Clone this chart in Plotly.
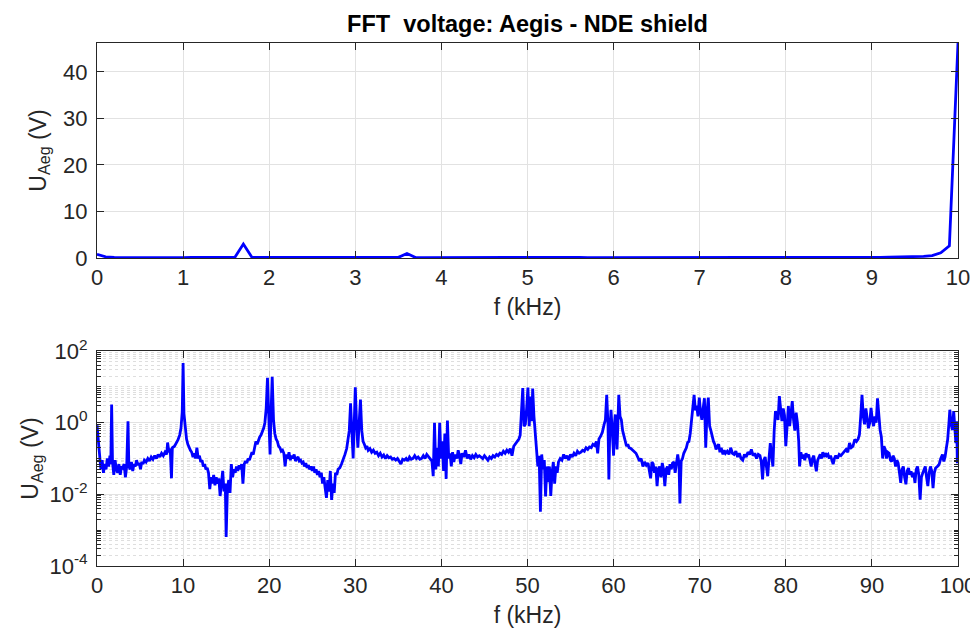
"""
FFT of the Aegis voltage, NDE shield: linear view 0-10 kHz, log view 0-100 kHz.
"""
import plotly.graph_objects as go
from plotly.subplots import make_subplots

# top panel: 0-10 kHz, linear amplitude
f_top = [
    0.0, 0.1, 0.2, 0.3, 0.4, 0.5, 0.6, 0.7, 0.8, 0.9,
    1.0, 1.1, 1.2, 1.3, 1.4, 1.5, 1.6, 1.7, 1.8, 1.9,
    2.0, 2.1, 2.2, 2.3, 2.4, 2.5, 2.6, 2.7, 2.8, 2.9,
    3.0, 3.1, 3.2, 3.3, 3.4, 3.5, 3.6, 3.7, 3.8, 3.9,
    4.0, 4.1, 4.2, 4.3, 4.4, 4.5, 4.6, 4.7, 4.8, 4.9,
    5.0, 5.1, 5.2, 5.3, 5.4, 5.5, 5.6, 5.7, 5.8, 5.9,
    6.0, 6.1, 6.2, 6.3, 6.4, 6.5, 6.6, 6.7, 6.8, 6.9,
    7.0, 7.1, 7.2, 7.3, 7.4, 7.5, 7.6, 7.7, 7.8, 7.9,
    8.0, 8.1, 8.2, 8.3, 8.4, 8.5, 8.6, 8.7, 8.8, 8.9,
    9.0, 9.1, 9.2, 9.3, 9.4, 9.5, 9.6, 9.7, 9.8, 9.9,
    10.0,
]
u_top = [
    0.8, 0.25, 0.12, 0.1, 0.08, 0.09, 0.1, 0.08, 0.1, 0.12,
    0.09, 0.1, 0.13, 0.1, 0.09, 0.11, 0.1, 3.0, 0.12, 0.1,
    0.1, 0.08, 0.1, 0.09, 0.11, 0.1, 0.08, 0.1, 0.09, 0.1,
    0.1, 0.09, 0.1, 0.11, 0.1, 0.12, 0.95, 0.1, 0.09, 0.1,
    0.1, 0.09, 0.11, 0.1, 0.08, 0.1, 0.09, 0.1, 0.11, 0.1,
    0.09, 0.1, 0.1, 0.08, 0.1, 0.11, 0.1, 0.09, 0.1, 0.1,
    0.09, 0.1, 0.11, 0.1, 0.08, 0.1, 0.1, 0.09, 0.1, 0.11,
    0.1, 0.09, 0.1, 0.1, 0.08, 0.1, 0.11, 0.1, 0.09, 0.1,
    0.18, 0.12, 0.1, 0.13, 0.1, 0.08, 0.06, 0.1, 0.12, 0.13,
    0.15, 0.14, 0.16, 0.18, 0.22, 0.25, 0.35, 0.5, 1.1, 2.6,
    46.2,
]

# bottom panel: 0-100 kHz, log amplitude
f_bot = [
    0.0, 0.15, 0.3, 0.45, 0.6, 0.75, 0.9, 1.05, 1.2, 1.35, 1.5, 1.6, 1.7, 1.8,
    1.95, 2.1, 2.25, 2.4, 2.55, 2.7, 2.85, 3.0, 3.15, 3.3, 3.45, 3.6, 3.7, 3.85,
    4.0, 4.15, 4.3, 4.45, 4.6, 4.75, 4.9, 5.05, 5.2, 5.35, 5.5, 5.7, 5.9, 6.1,
    6.3, 6.5, 6.7, 6.9, 7.1, 7.3, 7.5, 7.7, 7.9, 8.1, 8.2, 8.35, 8.5, 8.65,
    8.75, 9.0, 9.2, 9.4, 9.6, 9.75, 9.9, 10.0, 10.1, 10.25, 10.4, 10.55, 10.7,
    10.85, 11.0, 11.15, 11.3, 11.45, 11.6, 11.75, 11.9, 12.05, 12.2, 12.35,
    12.5, 12.65, 12.8, 12.95, 13.1, 13.25, 13.4, 13.55, 13.7, 13.85, 14.0,
    14.15, 14.3, 14.45, 14.6, 14.75, 14.9, 15.0, 15.15, 15.3, 15.45, 15.6,
    15.75, 15.9, 16.05, 16.2, 16.35, 16.5, 16.65, 16.8, 16.95, 17.1, 17.25,
    17.4, 17.55, 17.7, 17.85, 18.0, 18.15, 18.3, 18.45, 18.6, 18.75, 18.9,
    19.05, 19.2, 19.35, 19.5, 19.65, 19.8, 19.95, 20.1, 20.2, 20.35, 20.5,
    20.65, 20.8, 20.95, 21.1, 21.25, 21.4, 21.55, 21.7, 21.85, 22.0, 22.15,
    22.3, 22.45, 22.6, 22.75, 22.9, 23.05, 23.2, 23.35, 23.5, 23.65, 23.8,
    23.95, 24.1, 24.25, 24.4, 24.55, 24.7, 24.85, 25.0, 25.15, 25.3, 25.45,
    25.6, 25.75, 25.9, 26.05, 26.2, 26.35, 26.5, 26.65, 26.8, 26.95, 27.1,
    27.25, 27.4, 27.55, 27.7, 27.85, 28.0, 28.2, 28.4, 28.6, 28.8, 29.0,
    29.15, 29.3, 29.45, 29.6, 29.75, 29.9, 30.0, 30.15, 30.3, 30.45, 30.6,
    30.75, 30.9, 31.05, 31.2, 31.35, 31.5, 31.7, 31.9, 32.1, 32.3, 32.5,
    32.7, 32.9, 33.1, 33.3, 33.5, 33.7, 33.9, 34.1, 34.3, 34.5, 34.7, 34.9,
    35.1, 35.3, 35.5, 35.7, 35.9, 36.1, 36.3, 36.5, 36.7, 36.9, 37.1, 37.3,
    37.5, 37.7, 37.9, 38.1, 38.3, 38.5, 38.7, 38.9, 39.05, 39.2, 39.35, 39.5,
    39.65, 39.8, 39.95, 40.1, 40.25, 40.4, 40.55, 40.7, 40.85, 41.0, 41.15,
    41.3, 41.45, 41.6, 41.8, 41.95, 42.1, 42.25, 42.4, 42.6, 42.8, 43.0,
    43.2, 43.4, 43.6, 43.8, 44.0, 44.2, 44.4, 44.6, 44.8, 45.0, 45.2, 45.4,
    45.6, 45.8, 46.0, 46.2, 46.4, 46.6, 46.8, 47.0, 47.2, 47.4, 47.6, 47.8,
    48.0, 48.2, 48.4, 48.6, 48.8, 49.0, 49.15, 49.3, 49.45, 49.6, 49.75,
    49.9, 50.05, 50.2, 50.35, 50.5, 50.6, 50.75, 50.9, 51.05, 51.2, 51.35,
    51.5, 51.65, 51.8, 51.95, 52.1, 52.25, 52.4, 52.55, 52.7, 52.85, 53.0,
    53.15, 53.3, 53.45, 53.6, 53.8, 54.0, 54.2, 54.4, 54.6, 54.8, 55.0,
    55.2, 55.4, 55.6, 55.8, 56.0, 56.2, 56.4, 56.6, 56.8, 57.0, 57.2, 57.4,
    57.6, 57.8, 58.0, 58.15, 58.3, 58.5, 58.7, 58.9, 59.05, 59.2, 59.35,
    59.45, 59.55, 59.7, 59.85, 60.0, 60.1, 60.2, 60.3, 60.4, 60.5, 60.6,
    60.75, 60.9, 61.05, 61.2, 61.35, 61.5, 61.65, 61.8, 62.0, 62.2, 62.4,
    62.6, 62.8, 63.0, 63.2, 63.4, 63.6, 63.8, 64.0, 64.15, 64.3, 64.45,
    64.6, 64.75, 64.9, 65.05, 65.2, 65.35, 65.5, 65.65, 65.8, 65.95, 66.1,
    66.25, 66.4, 66.55, 66.7, 66.85, 67.0, 67.15, 67.3, 67.45, 67.6, 67.7,
    67.85, 68.0, 68.15, 68.3, 68.45, 68.6, 68.75, 68.9, 69.05, 69.2, 69.35,
    69.5, 69.65, 69.8, 69.95, 70.1, 70.25, 70.4, 70.55, 70.7, 70.85, 71.0,
    71.15, 71.3, 71.45, 71.6, 71.75, 71.9, 72.05, 72.2, 72.35, 72.5, 72.7,
    72.85, 73.0, 73.2, 73.4, 73.6, 73.8, 74.0, 74.2, 74.4, 74.6, 74.8, 75.0,
    75.2, 75.4, 75.6, 75.8, 76.0, 76.2, 76.4, 76.6, 76.8, 77.0, 77.15, 77.3,
    77.45, 77.6, 77.75, 77.9, 78.05, 78.2, 78.35, 78.5, 78.65, 78.8, 78.95,
    79.1, 79.25, 79.4, 79.55, 79.7, 79.85, 80.0, 80.15, 80.3, 80.45, 80.6,
    80.75, 80.9, 81.05, 81.2, 81.35, 81.5, 81.6, 81.75, 81.9, 82.05, 82.2,
    82.35, 82.5, 82.65, 82.8, 82.95, 83.1, 83.25, 83.4, 83.55, 83.7, 83.85,
    84.0, 84.15, 84.3, 84.45, 84.6, 84.75, 84.9, 85.05, 85.2, 85.35, 85.5,
    85.65, 85.8, 86.0, 86.2, 86.4, 86.6, 86.8, 87.0, 87.2, 87.4, 87.6, 87.8,
    88.0, 88.2, 88.4, 88.55, 88.7, 88.85, 89.0, 89.15, 89.3, 89.45, 89.6,
    89.75, 89.9, 90.05, 90.2, 90.35, 90.5, 90.65, 90.8, 90.95, 91.1, 91.25,
    91.4, 91.55, 91.7, 91.85, 92.0, 92.15, 92.3, 92.45, 92.6, 92.75, 92.9,
    93.05, 93.2, 93.35, 93.5, 93.65, 93.8, 93.95, 94.1, 94.25, 94.4, 94.55,
    94.7, 94.85, 95.0, 95.15, 95.3, 95.45, 95.6, 95.75, 95.9, 96.05, 96.2,
    96.35, 96.5, 96.65, 96.8, 96.95, 97.1, 97.25, 97.4, 97.6, 97.8, 98.0,
    98.2, 98.35, 98.5, 98.65, 98.8, 98.95, 99.05, 99.2, 99.35, 99.5, 99.65,
    99.75, 99.85, 99.92, 100.0,
]
u_bot = [
    0.85, 0.3, 0.1, 0.05, 0.09, 0.04, 0.07, 0.05, 0.1, 0.06, 0.12, 0.07, 3.2, 0.08,
    0.035, 0.09, 0.05, 0.04, 0.07, 0.035, 0.06, 0.055, 0.07, 0.03, 0.06, 1.1, 0.06, 0.05,
    0.08, 0.045, 0.07, 0.06, 0.09, 0.065, 0.075, 0.05, 0.08, 0.07, 0.09, 0.08, 0.1, 0.085,
    0.11, 0.095, 0.12, 0.1, 0.13, 0.11, 0.14, 0.12, 0.15, 0.13, 0.28, 0.15, 0.19, 0.028,
    0.2, 0.22, 0.27, 0.33, 0.45, 0.7, 2.0, 46.0, 1.8, 0.6, 0.35, 0.25, 0.2,
    0.17, 0.15, 0.11, 0.14, 0.1, 0.2, 0.1, 0.12, 0.08, 0.09, 0.06,
    0.07, 0.05, 0.055, 0.04, 0.014, 0.03, 0.02, 0.035, 0.018, 0.03, 0.02,
    0.028, 0.009, 0.025, 0.045, 0.012, 0.02, 0.00065, 0.015, 0.025, 0.011, 0.07,
    0.03, 0.05, 0.04, 0.06, 0.045, 0.065, 0.05, 0.07, 0.02, 0.07, 0.085,
    0.075, 0.1, 0.09, 0.12, 0.15, 0.13, 0.22, 0.3, 0.25, 0.33, 0.4,
    0.45, 0.55, 0.7, 1.0, 2.5, 18.0, 2.0, 0.13, 1.5, 19.0, 1.2,
    0.5, 0.35, 0.3, 0.22, 0.2, 0.16, 0.17, 0.14, 0.06, 0.13, 0.1,
    0.15, 0.09, 0.12, 0.1, 0.13, 0.085, 0.1, 0.11, 0.085, 0.09, 0.075,
    0.08, 0.06, 0.075, 0.055, 0.065, 0.05, 0.06, 0.045, 0.06, 0.04, 0.05,
    0.035, 0.045, 0.03, 0.04, 0.02, 0.03, 0.015, 0.008, 0.025, 0.012, 0.045,
    0.007, 0.02, 0.011, 0.04, 0.035, 0.05, 0.055, 0.07, 0.09, 0.13, 0.19,
    0.3, 0.6, 3.5, 0.5, 0.1, 1.5, 9.8, 0.9, 0.2, 1.0, 4.4,
    0.6, 0.3, 0.25, 0.2, 0.22, 0.17, 0.19, 0.15, 0.17, 0.14, 0.15,
    0.12, 0.14, 0.11, 0.125, 0.1, 0.12, 0.105, 0.11, 0.095, 0.1, 0.09, 0.1,
    0.085, 0.07, 0.095, 0.09, 0.1, 0.085, 0.11, 0.095, 0.1, 0.12, 0.1, 0.11,
    0.095, 0.1, 0.12, 0.1, 0.13, 0.11, 0.1, 0.085, 0.032, 1.0, 0.05, 0.2,
    0.06, 1.0, 0.1, 0.3, 0.045, 0.5, 0.027, 1.15, 0.1, 0.14, 0.06,
    0.15, 0.08, 0.13, 0.1, 0.17, 0.12, 0.07, 0.14, 0.11, 0.17, 0.1,
    0.13, 0.095, 0.12, 0.105, 0.13, 0.11, 0.12, 0.11, 0.1, 0.12, 0.105, 0.09,
    0.11, 0.1, 0.12, 0.11, 0.13, 0.12, 0.14, 0.13, 0.16, 0.14, 0.17, 0.15,
    0.19, 0.12, 0.22, 0.26, 0.3, 0.35, 0.45, 1.5, 9.3, 0.8, 0.9,
    2.5, 9.5, 0.8, 5.4, 1.1, 9.0, 1.5, 0.6, 0.2, 0.06, 0.12,
    0.0033, 0.13, 0.05, 0.09, 0.0087, 0.06, 0.022, 0.06, 0.009, 0.04, 0.08,
    0.02, 0.06, 0.04, 0.08, 0.1, 0.09, 0.13, 0.1, 0.12, 0.09, 0.13,
    0.11, 0.14, 0.12, 0.16, 0.14, 0.15, 0.17, 0.16, 0.2, 0.18, 0.21, 0.2,
    0.25, 0.23, 0.3, 0.14, 0.35, 0.42, 0.55, 0.9, 1.2, 6.0, 0.9,
    0.026, 0.5, 2.3, 0.3, 0.12, 0.9, 1.7, 0.5, 0.18, 1.0, 6.0,
    1.5, 1.2, 0.6, 0.42, 0.3, 0.22, 0.25, 0.2, 0.19, 0.17, 0.15,
    0.14, 0.11, 0.085, 0.1, 0.06, 0.08, 0.065, 0.075, 0.05, 0.028, 0.08,
    0.07, 0.04, 0.06, 0.017, 0.05, 0.06, 0.03, 0.075, 0.05, 0.017, 0.05,
    0.06, 0.035, 0.07, 0.05, 0.075, 0.08, 0.04, 0.09, 0.13, 0.07, 0.0056,
    0.085, 0.1, 0.14, 0.16, 0.2, 0.28, 0.3, 0.5, 1.3, 2.5, 6.0,
    2.2, 3.0, 1.5, 5.0, 2.0, 1.2, 2.5, 4.8, 0.2, 2.0, 5.0,
    0.8, 0.6, 0.4, 0.3, 0.25, 0.18, 0.22, 0.25, 0.15, 0.2, 0.13,
    0.17, 0.14, 0.16, 0.13, 0.2, 0.14, 0.13, 0.16, 0.11, 0.14, 0.1, 0.09,
    0.13, 0.11, 0.15, 0.13, 0.18, 0.12, 0.14, 0.1, 0.13, 0.12, 0.08, 0.026,
    0.09, 0.11, 0.06, 0.032, 0.1, 0.27, 0.12, 0.06, 0.6, 2.1, 1.5,
    1.2, 5.5, 1.8, 1.1, 2.5, 1.6, 0.22, 1.2, 2.9, 0.8, 1.5,
    4.0, 1.2, 0.6, 1.9, 1.0, 0.3, 0.06, 0.15, 0.1, 0.13, 0.09,
    0.14, 0.11, 0.13, 0.08, 0.06, 0.1, 0.12, 0.07, 0.044, 0.09, 0.11,
    0.13, 0.1, 0.15, 0.11, 0.14, 0.12, 0.13, 0.1, 0.12, 0.09, 0.07,
    0.1, 0.12, 0.1, 0.13, 0.12, 0.14, 0.16, 0.18, 0.15, 0.27, 0.2, 0.22,
    0.34, 0.3, 0.35, 0.46, 1.5, 6.0, 1.5, 0.9, 2.5, 1.2, 0.7,
    1.0, 2.6, 1.2, 0.8, 1.5, 1.0, 4.8, 1.2, 0.63, 0.4, 0.1,
    0.22, 0.18, 0.1, 0.15, 0.14, 0.09, 0.083, 0.12, 0.1, 0.06, 0.09,
    0.074, 0.04, 0.021, 0.05, 0.06, 0.03, 0.019, 0.045, 0.054, 0.035, 0.044,
    0.03, 0.04, 0.021, 0.05, 0.06, 0.035, 0.0071, 0.03, 0.039, 0.05, 0.06,
    0.03, 0.017, 0.04, 0.06, 0.045, 0.015, 0.04, 0.054, 0.06, 0.068, 0.1,
    0.13, 0.083, 0.11, 0.2, 0.34, 1.0, 2.3, 0.9, 0.63, 2.1, 0.8,
    0.27, 1.1, 0.074, 0.25,
]

ytick_vals = [1e-4, 1e-2, 1, 100]
ytick_text = ["10<sup>-4</sup>", "10<sup>-2</sup>", "10<sup>0</sup>", "10<sup>2</sup>"]

font_family = "Liberation Sans, Arial, Helvetica, sans-serif"
ink = "#262626"

fig = make_subplots(rows=2, cols=1)

fig.add_trace(
    go.Scatter(x=f_top, y=u_top, mode="lines", line=dict(color="#0000ff", width=2.8)),
    row=1, col=1,
)
fig.add_trace(
    go.Scatter(x=f_bot, y=u_bot, mode="lines", line=dict(color="#0000ff", width=2.8)),
    row=2, col=1,
)

axis_style = dict(
    showline=True,
    linecolor=ink,
    linewidth=1,
    mirror="ticks",
    ticks="inside",
    ticklen=7,
    tickcolor=ink,
    showgrid=True,
    gridcolor="#e2e2e2",
    zeroline=False,
    automargin=False,
    tickfont=dict(size=22, color=ink),
    title_font=dict(size=23, color=ink),
)

fig.update_xaxes(**axis_style)
fig.update_yaxes(**axis_style, ticklabelstandoff=4)

fig.update_xaxes(
    range=[0, 10], dtick=1, domain=[0, 1],
    title_text="f (kHz)", title_standoff=9, row=1, col=1,
)
fig.update_yaxes(
    range=[0, 46.2], tickvals=[0, 10, 20, 30, 40], domain=[0.589, 1],
    title_text="U<sub>Aeg</sub> (V)", title_standoff=10, row=1, col=1,
)
fig.update_xaxes(
    range=[0, 100], dtick=10, domain=[0, 1],
    title_text="f (kHz)", title_standoff=9, row=2, col=1,
)

minor_vals = [k * 10.0 ** d for d in range(-4, 2) for k in range(1, 10)] + [100]
fig.update_yaxes(
    type="log", range=[-4, 2], tickvals=ytick_vals, ticktext=ytick_text,
    domain=[0, 0.411],
    minor=dict(
        tickvals=minor_vals, ticks="inside", ticklen=4, tickcolor=ink,
        showgrid=True, gridcolor="#dedede", griddash="dot", gridwidth=1,
    ),
    title_text="U<sub>Aeg</sub> (V)", title_standoff=4, row=2, col=1,
)

# the page body adds an 8 px offset, so the figure is sized and placed to suit
fig.update_layout(
    width=970,
    height=620,
    margin=dict(l=89, r=20, t=35, b=62),
    showlegend=False,
    plot_bgcolor="white",
    paper_bgcolor="white",
    font=dict(family=font_family, color=ink),
    title=dict(
        text="<b>FFT\u00a0 voltage: Aegis - NDE shield</b>",
        xref="paper", x=0.5, xanchor="center",
        y=1 - 16 / 620, yanchor="middle",
        font=dict(size=23.5, color="black", family=font_family),
    ),
)

fig.write_html("out.html")
